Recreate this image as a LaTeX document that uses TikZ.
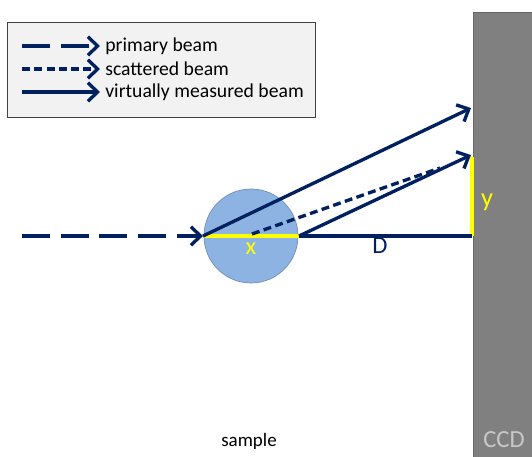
\documentclass[tikz,border=0pt]{standalone}
\usepackage{fontspec}
\setmainfont{Carlito}
\usetikzlibrary{arrows.meta}
\definecolor{navy}{RGB}{0,32,96}
\definecolor{ccdgray}{RGB}{128,128,128}
\definecolor{ccdtext}{RGB}{200,200,200}
\definecolor{sampleblue}{RGB}{141,179,226}
\definecolor{legendfill}{RGB}{242,242,242}
\definecolor{mark}{RGB}{255,255,0}
\begin{document}
\begin{tikzpicture}[x=0.02cm, y=-0.02cm,
    beam/.style={draw=navy, line width=1.9pt, -{Straight Barb[length=5.5pt, width=10.5pt]}},
    primary/.style={beam, dash pattern=on 16pt off 6pt},
    scattered/.style={beam, dash pattern=on 4.5pt off 2.5pt},
    size line/.style={draw=mark, line width=2.4pt},
    legend text/.style={anchor=west, inner sep=0pt, font=\fontsize{11.2}{13}\selectfont, text=black}]
    \useasboundingbox (0,0) rectangle (532,457);

    % detecteur
    \node[rectangle, draw=gray!80!black, fill=ccdgray, minimum width=1.18cm, minimum height=8.9cm, inner sep=0pt] (ccd) at (502.5,234.5) {};
    \node[text=ccdtext, font=\fontsize{14}{16}\selectfont] (ccdlabel) at (504,440) {CCD};

    % legende
    \node[rectangle, draw=black!75, fill=legendfill, minimum width=6.16cm, minimum height=1.9cm, inner sep=0pt] (legend) at (161,69.5) {};
    \coordinate (l1a) at (22,46);  \coordinate (l1b) at (100,46);
    \coordinate (l2a) at (22,69);  \coordinate (l2b) at (100,69);
    \coordinate (l3a) at (22,92);  \coordinate (l3b) at (100,92);
    \draw[primary] (l1a) -- (l1b);
    \draw[scattered] (l2a) -- (l2b);
    \draw[beam] (l3a) -- (l3b);
    \node[legend text] (tprimary) at (105,46) {primary beam};
    \node[legend text] (tscattered) at (105,69) {scattered beam};
    \node[legend text] (tvirtual) at (105,92) {virtually measured beam};

    % echantillon
    \node[circle, draw=sampleblue!80!black, fill=sampleblue, minimum size=1.88cm, inner sep=0pt] (sample) at (251,236) {};
    \node[text=black, font=\fontsize{10.8}{12}\selectfont] (samplelabel) at (249,441) {sample};

    % faisceaux
    \coordinate (src) at (22,236);
    \coordinate (in) at (203,236);
    \coordinate (out) at (299,236);
    \coordinate (mid) at (252,234);
    \coordinate (foot) at (472,236);
    \coordinate (top) at (472,157);
    \coordinate (hitA) at (471,108);
    \coordinate (hitB) at (471,155);
    \coordinate (hitS) at (440,168);

    \draw[size line] (in) -- (out);
    \draw[size line] (top) -- (foot);
    \draw[draw=navy, line width=1.9pt] (out) -- (foot);
    \draw[primary] (src) -- (in);
    \draw[beam] (in) -- (hitA);
    \draw[scattered, -] (mid) -- (hitS);
    \draw[beam] (out) -- (hitB);

    \node[text=mark, font=\fontsize{14}{16}\selectfont] (xlabel) at (251,249) {x};
    \node[text=navy, font=\fontsize{14}{16}\selectfont] (dlabel) at (380,246) {D};
    \node[text=mark, font=\fontsize{15}{17}\selectfont] (ylabel) at (487,202) {y};
\end{tikzpicture}
\end{document}
